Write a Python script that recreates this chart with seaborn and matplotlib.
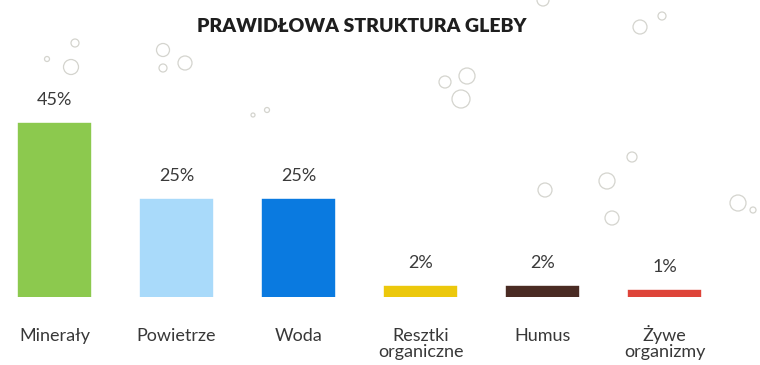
import matplotlib
matplotlib.use("Agg")
import matplotlib.pyplot as plt
from matplotlib.patches import Circle
from matplotlib.transforms import Affine2D, offset_copy
import seaborn as sns
import pandas as pd

# Soil composition data
categories = ["Minerały", "Powietrze", "Woda", "Resztki\norganiczne", "Humus", "Żywe\norganizmy"]
shares = [45, 25, 25, 2, 2, 1]
colors = ["#8cc94e", "#a9dafa", "#0a7ae0", "#ecc80c", "#4a2b23", "#de4439"]
title = "PRAWIDŁOWA STRUKTURA GLEBY"

sns.set_theme(style="white")
plt.rcParams["font.family"] = ["Lato", "DejaVu Sans"]

df = pd.DataFrame({"kategoria": categories, "udzial": shares})

W, H = 760, 365
fig = plt.figure(figsize=(W / 100, H / 100), dpi=100)
fig.patch.set_facecolor("white")

# Decorative bubbles in the background (pixel coords from top-left, radius)
bubbles = [
    (47, 59, 2.5), (75, 43, 4), (71, 67, 7.5),
    (163, 50, 6.5), (163, 68, 4), (185, 63, 7),
    (253, 115, 2), (267, 110, 2.5),
    (445, 82, 6), (467, 76, 8), (461, 99, 9),
    (640, 27, 7), (662, 16, 4),
    (632, 157, 5), (607, 181, 8), (612, 218, 7), (545, 190, 7),
    (738, 203, 8), (753, 210, 3), (543, 0, 6),
]
for bx, by, r in bubbles:
    fig.patches.append(Circle((bx, H - by), r, transform=Affine2D(),
                              fill=False, edgecolor="#d4d4ce", linewidth=0.9, zorder=0))

ax = fig.add_axes([0.0, 68 / H, 1.0, 297 / H])
ax.set_facecolor("none")

sns.barplot(data=df, x="kategoria", y="udzial", hue="kategoria", palette=colors,
            legend=False, width=0.55, ax=ax, saturation=1)

for patch, c in zip(ax.patches, colors):
    patch.set_edgecolor(c)
    patch.set_linewidth(4.6)
    patch.set_joinstyle("miter")

for cont in ax.containers:
    ax.bar_label(cont, labels=[f"{v:g}%" for v in cont.datavalues], padding=13,
                 fontsize=13, color="#3a3a3a")

ax.set_xlim(-0.447, 5.78)
ax.set_ylim(0, 297 / 3.79)
ax.set_xlabel("")
ax.set_ylabel("")
ax.set_yticks([])
ax.tick_params(axis="x", length=0, labelbottom=False)
for spine in ax.spines.values():
    spine.set_visible(False)

# Category names: each line on its own baseline so accented capitals don't shift rows
base = ax.get_xaxis_transform()
for i, name in enumerate(categories):
    for j, line in enumerate(name.split("\n")):
        tr = offset_copy(base, fig=fig, y=-(44 + 16 * j), units="dots")
        ax.text(i, 0, line, transform=tr, ha="center", va="baseline",
                fontsize=13, color="#383838", clip_on=False)

fig.text(362 / W, 1 - 27 / H, title, ha="center", va="center", fontsize=14,
         fontweight="heavy", color="#1e1e1e")

fig.savefig("out.png", dpi=100, facecolor="white")
